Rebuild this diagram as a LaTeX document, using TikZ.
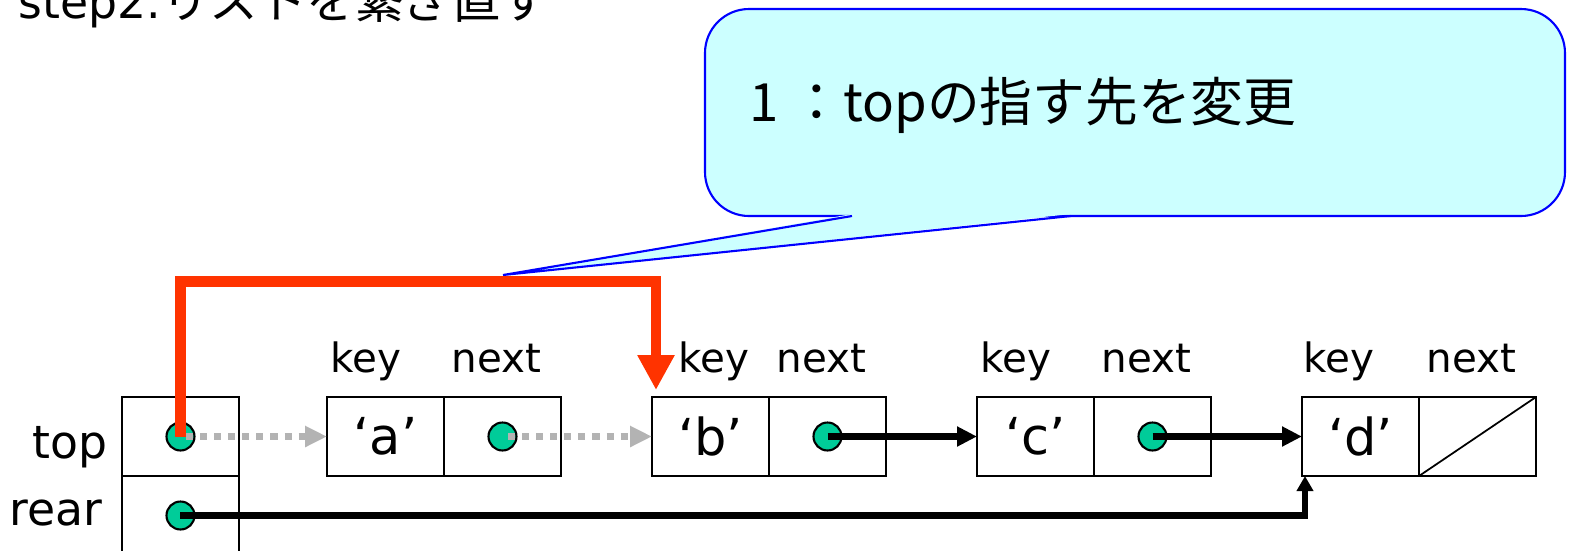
\documentclass[tikz,border=0pt]{standalone}
\usepackage{fontspec}
\setmainfont{DejaVu Sans}
\newfontfamily\jpfont{Noto Sans CJK JP}
\usetikzlibrary{positioning}
\usetikzlibrary{arrows.meta}
\definecolor{dotgreen}{HTML}{00CC99}
\definecolor{ptrgray}{HTML}{B3B3B3}
\definecolor{ptrred}{HTML}{FF3300}
\definecolor{notefill}{HTML}{CCFFFF}
\definecolor{noteblue}{HTML}{0000FF}

\tikzset{
  cell/.style={draw,line width=0.5pt,minimum width=1.17cm,minimum height=0.79cm,inner sep=0pt,outer sep=0pt,font=\fontsize{14.5}{16}\selectfont},
  dot/.style={circle,draw,fill=dotgreen,line width=0.6pt,minimum size=0.28cm,inner sep=0pt},
  lbl/.style={anchor=base,inner sep=0pt,font=\fontsize{11.5}{13}\selectfont},
  ptr/.style={line width=1.9pt,-{Triangle[length=0.2cm,width=0.19cm]}},
  oldptr/.style={ptrgray,line width=2pt,dash pattern=on 2pt off 2pt,dash phase=-1.6pt,-{Triangle[length=0.22cm,width=0.2cm]}},
  newptr/.style={ptrred,line width=3.1pt,-{Triangle[length=0.35cm,width=0.35cm]}},
}

\begin{document}
\begin{tikzpicture}
  \clip (0,0) rectangle (15.69,5.5);
  \node[anchor=base west,inner sep=0pt,font=\fontsize{13}{15}\selectfont] (title) at (0.18,5.32) {step2.{\jpfont\fontsize{13.8}{15}\selectfont リストを繋ぎ直す}};

  % callout
  \draw[noteblue,fill=notefill,line width=0.6pt,rounded corners=0.44cm] (7.05,3.34) rectangle (15.65,5.41);
  \fill[notefill] (8.52,3.36) -- (5.03,2.75) -- (10.71,3.36) -- cycle;
  \draw[noteblue,line width=0.6pt] (8.52,3.34) -- (5.03,2.75) -- (10.71,3.34);
  \node[anchor=west,inner sep=0pt,font=\jpfont\fontsize{15}{17}\selectfont] (note) at (7.49,4.45) {1 ：topの指す先を変更};

  % top / rear
  \node[cell] (topc) at (1.805,1.135) {};
  \node[cell,below=0pt of topc] (rearc) {};
  \node[anchor=base east,inner sep=0pt,font=\fontsize{13}{15}\selectfont] (toplbl) at (1.08,0.92) {top};
  \node[anchor=base east,inner sep=0pt,font=\fontsize{13}{15}\selectfont] (rearlbl) at (1.03,0.25) {rear};
  \node[dot] (tp) at (topc) {};
  \node[dot] (rp) at (rearc) {};

  % list nodes
  \foreach \n/\x/\s in {a/3.855/0.03cm,b/7.105/0.26cm,c/10.355/0.03cm,d/13.605/0.01cm} {
    \node[cell] (key\n) at (\x,1.135) {‘\n’};
    \node[cell,right=0pt of key\n] (next\n) {};
    \node[lbl,anchor=base west] (kl\n) at ([xshift=\s,yshift=0.25cm]key\n.north west) {key};
    \node[lbl] (nl\n) at ([xshift=-0.06cm,yshift=0.25cm]next\n.north) {next};
  }
  \foreach \n in {a,b,c}
    \node[dot] (p\n) at (next\n) {};
  \draw[line width=0.5pt] (nextd.south west) -- (nextd.north east);

  \draw[oldptr] (tp.center) -- (keya.west);
  \draw[oldptr] (pa.center) -- (keyb.west);
  \draw[ptr] (pb.center) -- (keyc.west);
  \draw[ptr] (pc.center) -- (keyd.west);
  \draw[ptr,-{Triangle[length=0.15cm,width=0.16cm]}] (rp.center) -| ([xshift=0.03cm]keyd.south west);

  \coordinate (bend) at (0,2.685);
  \coordinate (redtip) at ([xshift=0.04cm,yshift=0.07cm]keyb.north west);
  \draw[newptr] (tp.center) -- (tp.center |- bend) -| (redtip);
\end{tikzpicture}
\end{document}
